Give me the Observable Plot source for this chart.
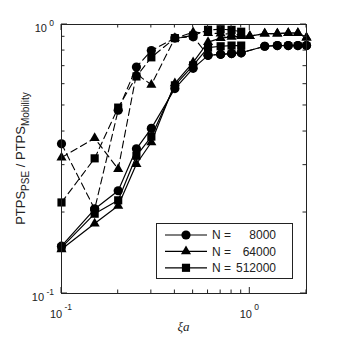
<!DOCTYPE html>
<html><head><meta charset="utf-8">
<script src="https://cdn.jsdelivr.net/npm/d3@7"></script>
<script src="https://cdn.jsdelivr.net/npm/@observablehq/plot@0.6"></script>
<style>
html,body{margin:0;padding:0;background:#fff;}
#chart{width:338px;height:338px;}
</style></head><body><div id="chart"></div>
<script>
// x values (ξa)
const xi = [0.1, 0.15, 0.2, 0.25, 0.3, 0.4, 0.5, 0.6, 0.7, 0.8, 0.9, 1.0, 1.2, 1.4, 1.6, 1.8, 2.0];
// N = 8000 (circles)
const n8000Solid  = [0.150, 0.206, 0.241, 0.345, 0.411, 0.578, 0.687, 0.768, 0.775, 0.780, 0.785, null, 0.830, 0.835, 0.835, 0.835, 0.835];
const n8000Dashed = [0.360, 0.206, 0.480, 0.695, 0.800, 0.890, 0.900, 0.768, 0.775, 0.780, 0.785, null, 0.830, 0.835, 0.835, 0.835, 0.835];
// N = 64000 (triangles)
const n64000Solid  = [0.146, 0.182, 0.212, 0.303, 0.365, 0.604, 0.723, 0.860, 0.890, 0.900, 0.905, 0.905, 0.925, 0.925, 0.930, 0.930, 0.895];
const n64000Dashed = [0.320, 0.378, 0.290, 0.655, 0.597, 0.890, 0.935, 0.930, 0.925, 0.920, 0.915, 0.905, 0.925, 0.925, 0.930, 0.930, 0.895];
// N = 512000 (squares)
const n512000Solid  = [0.148, 0.198, 0.222, 0.325, 0.383, 0.594, 0.705, 0.820, 0.830, 0.835, 0.835, null, null, null, null, null, null];
const n512000Dashed = [0.218, 0.318, 0.491, 0.641, 0.755, 0.890, 0.910, 0.955, 0.960, 0.955, 0.940, null, null, null, null, null, null];
// legend / tick labels
const legendNames = ["8000", "64000", "512000"];
const symbols = ["circle", "triangle", "square"];
const xMajor = [0.1, 1];
const xMinor = [0.2, 0.3, 0.4, 0.5, 0.6, 0.7, 0.8, 0.9, 2];
const yMajor = [0.1, 1];
const yMinor = [0.2, 0.3, 0.4, 0.5, 0.6, 0.7, 0.8, 0.9];
const xLabelExp = ["-1", "0"];
const yLabelExp = ["-1", "0"];

function rows(vals) { return xi.map((x, i) => ({x, y: vals[i]})).filter(d => d.y != null); }

const series = [
  {solid: n8000Solid, dashed: n8000Dashed, symbol: symbols[0], r: 4.6},
  {solid: n64000Solid, dashed: n64000Dashed, symbol: symbols[1], r: 3.75},
  {solid: n512000Solid, dashed: n512000Dashed, symbol: symbols[2], r: 4.6}
];

const marks = [];
for (const s of series) {
  marks.push(Plot.line(rows(s.dashed), {x: "x", y: "y", stroke: "#000", strokeWidth: 1.1, strokeDasharray: "7,4"}));
  marks.push(Plot.line(rows(s.solid), {x: "x", y: "y", stroke: "#000", strokeWidth: 1.2}));
}
for (const s of series) {
  marks.push(Plot.dot(rows(s.dashed), {x: "x", y: "y", symbol: s.symbol, r: s.r, fill: "#000", stroke: "none"}));
  marks.push(Plot.dot(rows(s.solid), {x: "x", y: "y", symbol: s.symbol, r: s.r, fill: "#000", stroke: "none"}));
}
marks.push(Plot.frame({stroke: "#222", strokeWidth: 1}));

const plot = Plot.plot({
  width: 338, height: 338,
  marginLeft: 61, marginRight: 32, marginTop: 24, marginBottom: 45,
  x: {type: "log", domain: [0.1, 2], axis: null},
  y: {type: "log", domain: [0.1, 1], axis: null},
  style: {background: "#fff", overflow: "visible"},
  marks
});
document.getElementById("chart").appendChild(plot);

const svg = d3.select(plot);
const sx = plot.scale("x"), sy = plot.scale("y");
const X = sx.apply ? (v => sx.apply(v)) : d3.scaleLog(sx.domain, sx.range);
const Y = sy.apply ? (v => sy.apply(v)) : d3.scaleLog(sy.domain, sy.range);
const xL = X(0.1), xR = X(2), yB = Y(0.1), yT = Y(1);
const g = svg.append("g").attr("stroke", "#222").attr("stroke-width", 1);
function xt(v, len) {
  g.append("line").attr("x1", X(v)).attr("x2", X(v)).attr("y1", yB).attr("y2", yB - len);
  g.append("line").attr("x1", X(v)).attr("x2", X(v)).attr("y1", yT).attr("y2", yT + len);
}
function yt(v, len) {
  g.append("line").attr("y1", Y(v)).attr("y2", Y(v)).attr("x1", xL).attr("x2", xL + len);
  g.append("line").attr("y1", Y(v)).attr("y2", Y(v)).attr("x1", xR).attr("x2", xR - len);
}
xMajor.forEach(v => xt(v, 6)); xMinor.forEach(v => xt(v, 3.5));
yMajor.forEach(v => yt(v, 6)); yMinor.forEach(v => yt(v, 3.5));

const font = "'Liberation Sans', Arial, Helvetica, sans-serif";
function pow(x, y, exp, anchor, dy) {
  const t = svg.append("text").attr("x", x).attr("y", y).attr("text-anchor", anchor)
    .attr("fill", "#222").style("font-family", font).style("font-size", "11px");
  t.append("tspan").text("10");
  t.append("tspan").attr("dy", dy).style("font-size", "8.5px").text("\u00a0" + exp);
}
xMajor.forEach((v, i) => pow(X(v), yB + 25, xLabelExp[i], "middle", -8));
yMajor.forEach((v, i) => pow(xL - 7, Y(v) + 7.5, yLabelExp[i], "end", -6));

// x label
svg.append("text").attr("x", (xL + xR) / 2).attr("y", 331).attr("text-anchor", "middle")
  .attr("fill", "#222").style("font-family", "'Liberation Serif', 'Times New Roman', serif")
  .style("font-style", "italic").style("font-size", "13px").text("ξa");

// y label
const yl = svg.append("text").attr("transform", `translate(25,${(yT + yB) / 2}) rotate(-90)`)
  .attr("text-anchor", "middle").attr("fill", "#222").style("font-family", font).style("font-size", "13px");
yl.append("tspan").text("PTPS");
yl.append("tspan").attr("dy", 4).style("font-size", "10px").text("PSE");
yl.append("tspan").attr("dy", -4).text(" / PTPS");
yl.append("tspan").attr("dy", 4).style("font-size", "10px").text("Mobility");

// legend
const lg = svg.append("g");
lg.append("rect").attr("x", 156.5).attr("y", 223.5).attr("width", 136).attr("height", 55)
  .attr("fill", "#fff").attr("stroke", "#222");
const symMap = {circle: d3.symbolCircle, triangle: d3.symbolTriangle, square: d3.symbolSquare};
series.forEach((s, i) => {
  const cy = 235 + i * 16.4;
  lg.append("line").attr("x1", 165).attr("x2", 207).attr("y1", cy).attr("y2", cy).attr("stroke", "#000").attr("stroke-width", 1.2);
  lg.append("path").attr("transform", `translate(186,${cy})`)
    .attr("d", d3.symbol(symMap[s.symbol], Math.PI * s.r * s.r)()).attr("fill", "#000");
  lg.append("text").attr("x", 212).attr("y", cy + 4.3).attr("text-anchor", "start").attr("fill", "#222").style("font-family", font).style("font-size", "12px").text("N =");
  lg.append("text").attr("x", 276).attr("y", cy + 4.3).attr("text-anchor", "end").attr("fill", "#222").style("font-family", font).style("font-size", "12px").text(legendNames[i]);
});
</script>
</body></html>
